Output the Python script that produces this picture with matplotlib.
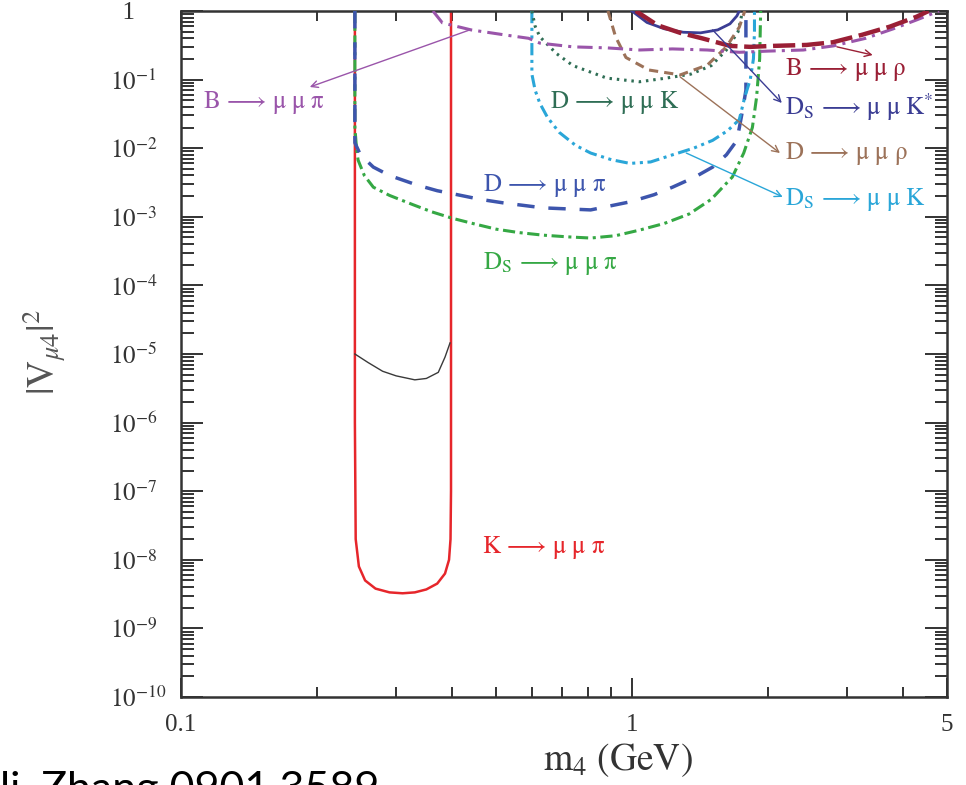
import matplotlib
matplotlib.use("Agg")
import matplotlib.pyplot as plt
from matplotlib.ticker import FixedLocator, FixedFormatter, LogLocator, NullFormatter

plt.rcParams['mathtext.fontset'] = 'stix'
plt.rcParams['font.family'] = ['Liberation Serif', 'DejaVu Serif']

# ---- exclusion contours, |V_mu4|^2 versus m_4 (GeV) ----
k_mumupi_m = [0.243, 0.243, 0.244, 0.248, 0.256, 0.27, 0.29, 0.31, 0.33, 0.35, 0.37, 0.385, 0.393, 0.396, 0.397, 0.397]
k_mumupi_v = [1.0, 1e-6, 2e-8, 8e-9, 5e-9, 3.8e-9, 3.35e-9, 3.25e-9, 3.35e-9, 3.7e-9, 4.5e-9, 6.3e-9, 1e-8, 2e-8, 1e-7, 1.0]

k_other_m = [0.243, 0.26, 0.28, 0.30, 0.33, 0.35, 0.372, 0.385, 0.395]
k_other_v = [1e-5, 7.5e-6, 5.6e-6, 4.8e-6, 4.2e-6, 4.4e-6, 5.4e-6, 9e-6, 1.45e-5]

ds_mumupi_m = [0.243, 0.243, 0.245, 0.247, 0.255, 0.267, 0.29, 0.327, 0.36, 0.40, 0.45, 0.50, 0.56, 0.635,
               0.72, 0.81, 0.92, 1.04, 1.18, 1.34, 1.5, 1.67, 1.77, 1.85, 1.89, 1.92, 1.93]
ds_mumupi_v = [1.0, 2e-2, 1e-2, 6.7e-3, 4e-3, 2.7e-3, 2.05e-3, 1.5e-3, 1.18e-3, 9.5e-4, 7.8e-4, 6.6e-4, 5.9e-4, 5.4e-4,
               5.1e-4, 4.9e-4, 5.3e-4, 6.4e-4, 8e-4, 1.1e-3, 1.8e-3, 3.8e-3, 8.5e-3, 2e-2, 5.5e-2, 0.2, 1.0]

d_mumupi_m = [0.243, 0.243, 0.25, 0.267, 0.29, 0.334, 0.37, 0.41, 0.46, 0.517, 0.635, 0.81, 0.99, 1.12,
              1.23, 1.38, 1.51, 1.62, 1.71, 1.76, 1.79, 1.79]
d_mumupi_v = [1.0, 1.2e-2, 8e-3, 5.3e-3, 4e-3, 2.9e-3, 2.4e-3, 2.1e-3, 1.8e-3, 1.6e-3, 1.35e-3, 1.26e-3, 1.65e-3, 2.1e-3,
              2.7e-3, 3.8e-3, 5.3e-3, 8e-3, 1.3e-2, 3.6e-2, 7e-2, 1.0]

ds_mumuk_m = [0.60, 0.60, 0.61, 0.625, 0.65, 0.69, 0.75, 0.81, 0.9, 0.99, 1.1, 1.23, 1.37, 1.51, 1.63, 1.73,
              1.78, 1.83, 1.86, 1.87, 1.87]
ds_mumuk_v = [1.0, 0.12, 0.07, 0.045, 0.028, 0.017, 1.1e-2, 8.5e-3, 6.8e-3, 6e-3, 6.3e-3, 8e-3, 1e-2, 1.3e-2, 1.8e-2, 2.6e-2,
              5.6e-2, 0.1, 0.2, 0.5, 1.0]

d_mumuk_m = [0.60, 0.61, 0.625, 0.68, 0.74, 0.88, 1.04, 1.19, 1.35, 1.5, 1.62, 1.72, 1.76]
d_mumuk_v = [1.0, 0.6, 0.42, 0.24, 0.16, 0.105, 0.093, 0.105, 0.12, 0.16, 0.27, 0.5, 1.0]

d_mumurho_m = [0.885, 0.92, 0.97, 1.09, 1.28, 1.47, 1.62, 1.73, 1.78]
d_mumurho_v = [1.0, 0.42, 0.21, 0.138, 0.117, 0.163, 0.30, 0.58, 1.0]

ds_mumukstar_m = [1.0, 1.08, 1.18, 1.3, 1.42, 1.55, 1.65, 1.71, 1.73]
ds_mumukstar_v = [1.0, 0.68, 0.55, 0.49, 0.48, 0.53, 0.65, 0.85, 1.0]

b_mumurho_m = [1.02, 1.14, 1.28, 1.43, 1.65, 1.83, 2.06, 2.44, 2.79, 3.24, 3.73, 4.27, 4.55]
b_mumurho_v = [1.0, 0.62, 0.48, 0.40, 0.31, 0.30, 0.31, 0.32, 0.35, 0.45, 0.59, 0.82, 1.0]

b_mumupi_m = [0.362, 0.38, 0.44, 0.52, 0.59, 0.625, 0.74, 0.88, 1.04, 1.23, 1.47, 1.73, 2.0, 2.4, 2.8, 3.3, 3.8, 4.3, 4.8]
b_mumupi_v = [1.0, 0.67, 0.53, 0.45, 0.40, 0.34, 0.30, 0.29, 0.27, 0.28, 0.27, 0.25, 0.26, 0.27, 0.31, 0.40, 0.55, 0.75, 1.0]

y_decades = [1e-10, 1e-9, 1e-8, 1e-7, 1e-6, 1e-5, 1e-4, 1e-3, 1e-2, 1e-1, 1.0]
y_ticklabels = [r'$10^{-10}$', r'$10^{-9}$', r'$10^{-8}$', r'$10^{-7}$', r'$10^{-6}$', r'$10^{-5}$',
                r'$10^{-4}$', r'$10^{-3}$', r'$10^{-2}$', r'$10^{-1}$', '  1']
x_major = [0.1, 1.0, 5.0]
x_ticklabels = ['0.1', '1', '5']
x_minor = [0.2, 0.3, 0.4, 0.5, 0.6, 0.7, 0.8, 0.9, 2.0, 3.0, 4.0]

# colours
c_red = '#e6262b'
c_black = '#3a3a3a'
c_green = '#35a844'
c_blue = '#3d55ad'
c_cyan = '#2aa6d8'
c_dkgreen = '#2f6e55'
c_brown = '#9c7259'
c_navy = '#3b3d94'
c_maroon = '#9a1f35'
c_purple = '#9a55aa'

fig = plt.figure(figsize=(9.66, 7.85), dpi=100)
ax = fig.add_axes([0.1874, 0.1121, 0.7930, 0.8739])
ax.set_xscale('log')
ax.set_yscale('log')
ax.set_xlim(0.1, 5)
ax.set_ylim(1e-10, 1)

ax.plot(k_mumupi_m, k_mumupi_v, color=c_red, lw=1.8, zorder=2)
ax.plot(k_other_m, k_other_v, color=c_black, lw=1.0, zorder=2)
ax.plot(ds_mumupi_m, ds_mumupi_v, color=c_green, lw=2.2, dashes=(4, 1.5, 1, 1.5), zorder=3)
ax.plot(d_mumupi_m, d_mumupi_v, color=c_blue, lw=2.5, dashes=(5, 4), zorder=3)
ax.plot(ds_mumuk_m, ds_mumuk_v, color=c_cyan, lw=2.2, dashes=(4, 1.5, 1, 1.5, 1, 1.5), zorder=3)
ax.plot(d_mumuk_m, d_mumuk_v, color=c_dkgreen, lw=2.2, dashes=(0.8, 1.6), zorder=3)
ax.plot(d_mumurho_m, d_mumurho_v, color=c_brown, lw=2.2, dashes=(3, 2), zorder=3)
ax.plot(ds_mumukstar_m, ds_mumukstar_v, color=c_navy, lw=2.0, zorder=3)
ax.plot(b_mumupi_m, b_mumupi_v, color=c_purple, lw=2.2, dashes=(5, 2, 1, 2), zorder=3)
ax.plot(b_mumurho_m, b_mumurho_v, color=c_maroon, lw=3.2, dashes=(5, 1.5), zorder=4)

fs = 18
def lab(name, sub, final, x, y, color):
    if sub:
        s = r'$\mathrm{%s_{S}}\,\longrightarrow\,\mathrm{\mu\ \mu\ %s}$' % (name, final)
    else:
        s = r'$\mathrm{%s}\,\longrightarrow\,\mathrm{\mu\ \mu\ %s}$' % (name, final)
    ax.text(x, y, s, color=color, fontsize=fs, ha='left', va='center', zorder=6)

lab('B', False, r'\pi', 0.112, 0.046, c_purple)
lab('B', False, r'\rho', 2.18, 0.138, c_maroon)
lab('D', True, 'K^{*}', 2.18, 0.040, c_navy)
lab('D', False, r'\rho', 2.18, 8.5e-3, c_brown)
lab('D', True, 'K', 2.18, 1.76e-3, c_cyan)
lab('D', False, 'K', 0.658, 0.0457, c_dkgreen)
lab('D', False, r'\pi', 0.468, 2.9e-3, c_blue)
lab('D', True, r'\pi', 0.468, 2.1e-4, c_green)
lab('K', False, r'\pi', 0.466, 1.5e-8, c_red)

def arrow(tail, head, color):
    ax.annotate('', xy=head, xytext=tail,
                arrowprops=dict(arrowstyle='->', color=color, lw=1.0, shrinkA=0, shrinkB=0,
                                mutation_scale=12), zorder=5)

arrow((0.437, 0.53), (0.193, 0.078), c_purple)
arrow((2.85, 0.30), (3.42, 0.228), c_maroon)
arrow((1.51, 0.53), (2.15, 0.0456), c_navy)
arrow((1.28, 0.109), (2.13, 8.5e-3), c_brown)
arrow((1.32, 8.5e-3), (2.16, 1.95e-3), c_cyan)

# axes, ticks
for sp in ax.spines.values():
    sp.set_linewidth(1.8)
    sp.set_color('#333333')

ax.yaxis.set_major_locator(FixedLocator(y_decades))
ax.yaxis.set_major_formatter(FixedFormatter(y_ticklabels))
ax.yaxis.set_minor_locator(LogLocator(base=10, subs=(2, 3, 4, 5, 6, 7, 8, 9), numticks=30))
ax.yaxis.set_minor_formatter(NullFormatter())
ax.xaxis.set_major_locator(FixedLocator(x_major))
ax.xaxis.set_major_formatter(FixedFormatter(x_ticklabels))
ax.xaxis.set_minor_locator(FixedLocator(x_minor))
ax.xaxis.set_minor_formatter(NullFormatter())

ax.tick_params(which='both', direction='in', top=True, right=True, color='#333333', width=1.4)
ax.tick_params(axis='y', which='major', length=16, pad=51, labelsize=18, labelcolor='#333333')
ax.tick_params(axis='y', which='minor', length=9)
ax.tick_params(axis='x', which='major', length=14, pad=12, labelsize=18, labelcolor='#333333')
ax.tick_params(axis='x', which='minor', length=7)
for t in ax.get_yticklabels():
    t.set_horizontalalignment('left')

fig.text(618 / 966, 1 - 760 / 785, r'$\mathrm{m_{4}\ (GeV)}$', fontsize=27, color='#333333',
         ha='center', va='center')
fig.text(45 / 966, 1 - 352 / 785, r'$|\mathrm{V}_{\mu 4}|^{2}$', fontsize=27, color='#555555',
         ha='center', va='center', rotation=90)

fig.text(0.0, -0.022, 'li, Zhang 0901.3589', fontsize=31, color='black', family='Lato',
         ha='left', va='baseline')

fig.savefig('out.png', dpi=100)
